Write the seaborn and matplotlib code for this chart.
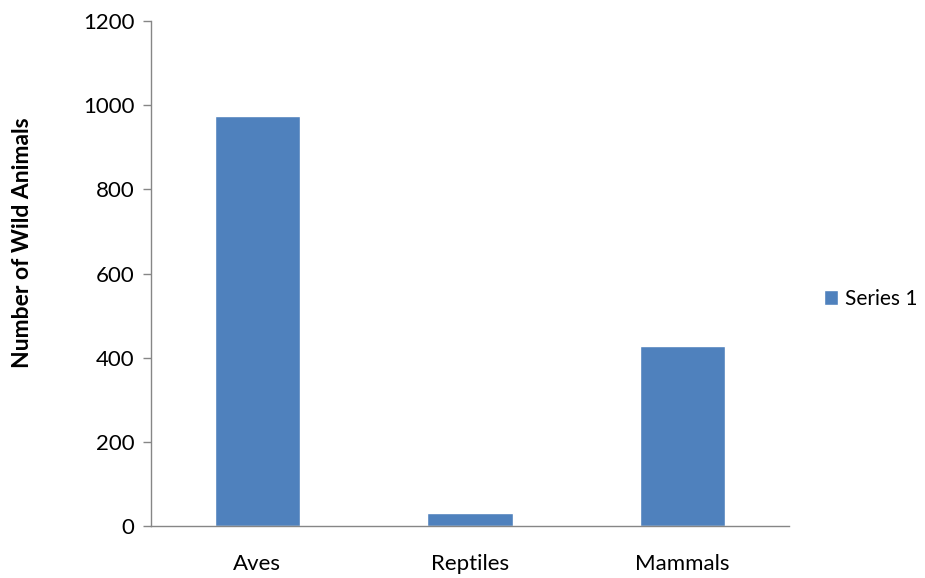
import matplotlib
matplotlib.use("Agg")
import matplotlib.pyplot as plt
import seaborn as sns
import pandas as pd
from matplotlib.ticker import FixedLocator

categories = ["Aves", "Reptiles", "Mammals"]
values = [974, 31, 428]
series_name = "Series 1"
y_ticks = [0, 200, 400, 600, 800, 1000, 1200]

sns.set_style("white")
plt.rcParams['font.family'] = ['Lato', 'DejaVu Sans']
plt.rcParams['text.color'] = 'black'
plt.rcParams['axes.labelcolor'] = 'black'
plt.rcParams['xtick.labelcolor'] = 'black'
plt.rcParams['ytick.labelcolor'] = 'black'

df = pd.DataFrame({"Category": categories, "Value": values, "Series": series_name})

fig = plt.figure(figsize=(9.25, 5.78), dpi=100)
ax = fig.add_axes([151/925, 1-526/578, (789-151)/925, (526-21)/578])

sns.barplot(data=df, x="Category", y="Value", hue="Series", palette=["#4F81BD"],
            width=0.4, ax=ax, saturation=1, legend=True)

ax.set_xlim(-0.5, 2.5)
ax.set_ylim(0, 1200)
ax.set_yticks(y_ticks)
ax.set_yticklabels([str(t) for t in y_ticks], fontsize=16)
ax.set_xlabel("")
ax.set_ylabel("Number of Wild Animals", fontsize=16.5, fontweight="bold")
ax.yaxis.set_label_coords(-0.185, 0.562)
ax.tick_params(axis="x", which="major", length=0, labelsize=16, pad=20)
ax.xaxis.set_minor_locator(FixedLocator([-0.5, 0.5, 1.5, 2.5]))
ax.tick_params(axis="x", which="minor", length=6, color="#868686", width=1, direction="out")
ax.tick_params(axis="y", which="major", length=6, color="#868686", width=1, direction="out", left=True, pad=6)

for s in ["top", "right"]:
    ax.spines[s].set_visible(False)
for s in ["left", "bottom"]:
    ax.spines[s].set_color("#868686")
    ax.spines[s].set_linewidth(1)

leg = ax.legend(loc="center left", bbox_to_anchor=(1.025, 0.45), frameon=False,
                fontsize=15, handlelength=0.7, handleheight=0.7, handletextpad=0.3)

fig.savefig("out.png", dpi=100)
